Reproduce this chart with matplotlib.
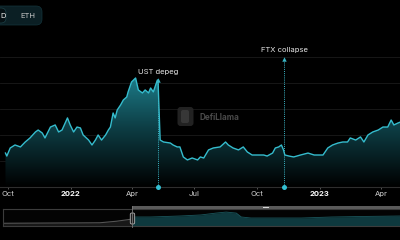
import numpy as np
import pandas as pd
import matplotlib
matplotlib.use('Agg')
import matplotlib.pyplot as plt
import matplotlib.dates as mdates
from matplotlib.colors import LinearSegmentedColormap
from matplotlib.patches import FancyBboxPatch, Rectangle

plt.rcParams['font.family'] = ['Inter', 'DejaVu Sans']

# TVL series (arbitrary units, $bn-ish)
dates = ['2021-09-27', '2021-09-29', '2021-10-04', '2021-10-11', '2021-10-19', '2021-10-26',
         '2021-11-02', '2021-11-10', '2021-11-14', '2021-11-20', '2021-11-24', '2021-12-02',
         '2021-12-09', '2021-12-14', '2021-12-19', '2021-12-27', '2021-12-31', '2022-01-05',
         '2022-01-10', '2022-01-15', '2022-01-19', '2022-01-27', '2022-02-01', '2022-02-06',
         '2022-02-10', '2022-02-15', '2022-02-21', '2022-02-25', '2022-02-28', '2022-03-04',
         '2022-03-07', '2022-03-10', '2022-03-15', '2022-03-19', '2022-03-24', '2022-03-26',
         '2022-03-31', '2022-04-06', '2022-04-10', '2022-04-16', '2022-04-20', '2022-04-25',
         '2022-04-28', '2022-05-02', '2022-05-08', '2022-05-09', '2022-05-12', '2022-05-17',
         '2022-05-27', '2022-05-31', '2022-06-06', '2022-06-10', '2022-06-15', '2022-06-21',
         '2022-06-28', '2022-07-06', '2022-07-10', '2022-07-15', '2022-07-22', '2022-07-29',
         '2022-08-08', '2022-08-16', '2022-08-20', '2022-08-27', '2022-09-04', '2022-09-11',
         '2022-09-17', '2022-09-24', '2022-10-02', '2022-10-11', '2022-10-16', '2022-10-24',
         '2022-10-28', '2022-11-02', '2022-11-06', '2022-11-09', '2022-11-11', '2022-11-17',
         '2022-11-24', '2022-12-04', '2022-12-15', '2022-12-24', '2023-01-06', '2023-01-13',
         '2023-01-20', '2023-01-28', '2023-02-04', '2023-02-11', '2023-02-15', '2023-02-23',
         '2023-03-02', '2023-03-07', '2023-03-13', '2023-03-20', '2023-03-28', '2023-04-04',
         '2023-04-11', '2023-04-16', '2023-04-20', '2023-04-26', '2023-04-30']
tvl = [26.1, 23.8, 30.0, 32.3, 30.8, 34.6,
       37.7, 42.3, 43.8, 41.5, 37.7, 46.1,
       47.7, 42.3, 43.8, 53.1, 47.7, 42.3,
       46.1, 45.4, 40.0, 36.1, 32.3, 36.1,
       40.0, 36.1, 40.0, 43.8, 46.1, 56.9,
       53.1, 59.2, 63.1, 66.9, 69.2, 73.1,
       80.7, 83.8, 74.6, 72.3, 74.6, 72.3,
       76.1, 73.1, 82.3, 80.7, 36.1, 34.6,
       33.8, 32.3, 30.8, 30.8, 23.1, 20.8,
       22.3, 20.8, 23.1, 22.3, 28.5, 30.0,
       30.8, 34.6, 32.3, 30.0, 28.5, 30.8,
       26.9, 24.6, 24.6, 24.6, 23.8, 26.1,
       30.0, 30.8, 32.3, 28.5, 24.6, 23.8,
       23.1, 24.6, 26.1, 24.6, 24.6, 30.0,
       32.3, 33.8, 34.6, 34.6, 37.7, 36.1,
       38.5, 34.6, 40.0, 42.3, 43.8, 46.1,
       46.1, 51.5, 47.7, 49.2, 50.0]

events = ['UST depeg', 'FTX collapse']
event_dates = ['2022-05-09', '2022-11-10']
event_tops = [81, 97]
event_label_y = [88.5, 105.5]

tick_dates = ['2021-10-01', '2022-01-01', '2022-04-01', '2022-07-01',
              '2022-10-01', '2023-01-01', '2023-04-01']
tick_labels = ['Oct', '2022', 'Apr', 'Jul', 'Oct', '2023', 'Apr']

# overview (brush) series
hist_dates = ['2020-12-11', '2021-02-15', '2021-05-01', '2021-07-10', '2021-08-15', '2021-09-19']
hist_vals = [16, 17, 18, 19, 28, 41]
sel_dates = ['2021-09-19', '2021-10-28', '2022-01-02', '2022-02-15', '2022-03-20', '2022-04-11',
             '2022-05-03', '2022-05-14', '2022-06-04', '2022-08-09', '2022-09-22', '2022-11-27',
             '2023-01-31', '2023-04-30']
sel_vals = [53, 53, 59, 65, 76, 82, 76, 53, 47, 47, 47, 53, 56, 59]

view_start, view_end = '2021-09-19', '2023-04-29'

W, H = 400, 240


def box(x0, y0, x1, y1):
    return [x0 / W, 1 - y1 / H, (x1 - x0) / W, (y1 - y0) / H]


def dn(d):
    return mdates.date2num(pd.to_datetime(d))


fig = plt.figure(figsize=(4, 2.4), dpi=100, facecolor='black')

# ---- main chart ----
ax = fig.add_axes(box(0, 40, 400, 187))
ax.set_facecolor('black')
x = dn(dates)
y = np.array(tvl)
ax.set_xlim(dn(view_start), dn(view_end))
ax.set_ylim(0, 113)
ax.set_yticks(range(0, 101, 20))
ax.grid(axis='y', color='#1b1b1b', lw=0.6)
ax.set_axisbelow(True)
for s in ['left', 'right', 'top']:
    ax.spines[s].set_visible(False)
ax.spines['bottom'].set_color('#2e2e2e')
ax.spines['bottom'].set_linewidth(0.8)
ax.tick_params(axis='y', left=False, labelleft=False)
ax.set_xticks(dn(tick_dates))
ax.set_xticklabels(tick_labels)
ax.tick_params(axis='x', direction='inout', length=3, width=0.6, color='#666',
               labelcolor='#d0d0d0', labelsize=5.5, pad=1.5)
for lab in ax.get_xticklabels():
    if lab.get_text().isdigit():
        lab.set_fontweight('bold')
        lab.set_color('white')

# gradient area under the line
cmap = LinearSegmentedColormap.from_list('tealfade', ['#000000', '#0d3d44', '#1f8593'])
grad = np.linspace(1, 0, 256).reshape(-1, 1)
im = ax.imshow(grad, extent=[x[0], x[-1], 0, 90], aspect='auto', cmap=cmap, zorder=1)
poly = ax.fill_between(x, y, 0, facecolor='none', edgecolor='none')
im.set_clip_path(poly.get_paths()[0], ax.transData)
ax.plot(x, y, color='#35bccd', lw=1.0, zorder=3)

# event markers
for name, d, top, ly in zip(events, event_dates, event_tops, event_label_y):
    xd = dn(d)
    ax.plot([xd, xd], [0, top], ls=(0, (1, 1.2)), lw=0.7, color='#3bb6c6', zorder=4)
    ax.plot([xd], [0], 'o', ms=3.6, color='#33bfd2', mec='none', zorder=6, clip_on=False)
    ax.plot([xd], [top + 1.2], '^', ms=3.2, color='#3bb6c6', mec='none', zorder=5)
    ax.text(xd, ly, name, color='#e6e6e6', fontsize=5.5, ha='center', va='center', zorder=6)

# ---- overview / brush ----
mini = fig.add_axes(box(3, 209, 402, 226))
mini.set_facecolor('#030303')
mini.set_xlim(dn(hist_dates[0]), dn(view_end))
mini.set_ylim(0, 100)
mini.set_xticks([])
mini.set_yticks([])
for s in mini.spines.values():
    s.set_color('#3c3c3c')
    s.set_linewidth(0.8)
mini.spines['right'].set_visible(False)
hx = dn(hist_dates)
mini.fill_between(hx, hist_vals, 0, color='#181818', lw=0)
mini.plot(hx, hist_vals, color='#555555', lw=0.8)
sx = dn(sel_dates)
mini.fill_between(sx, sel_vals, 0, color='#0e393e', lw=0)
mini.plot(sx, sel_vals, color='#1a565c', lw=0.6)

# ---- decorations in pixel space ----
ov = fig.add_axes([0, 0, 1, 1], zorder=10)
ov.set_xlim(0, W)
ov.set_ylim(H, 0)
ov.axis('off')
ov.patch.set_alpha(0)

# brush selection bar + handle, placed from the selection start date
hx0 = mini.transData.transform((dn(view_start), 0))[0] * W / fig.bbox.width
ov.add_patch(Rectangle((hx0, 205.5), W - hx0 + 5, 3.6, fc='#5a5a5a', ec='none'))
mid = (hx0 + W) / 2
ov.add_patch(Rectangle((mid - 3, 206.6), 6, 1.5, fc='#d8d8d8', ec='none'))
ov.plot([hx0, hx0], [205.5, 227], color='#7a7a7a', lw=0.6)
ov.add_patch(FancyBboxPatch((hx0 - 2.2, 213), 4.4, 11, boxstyle='round,pad=0,rounding_size=1.5',
                            fc='#1c1c1c', ec='#b5b5b5', lw=0.6))

# USD / ETH toggle (cut at the left edge)
ov.add_patch(FancyBboxPatch((-30, 6), 72, 19, boxstyle='round,pad=0,rounding_size=6',
                            fc='#0b1f24', ec='#14343b', lw=0.5))
ov.add_patch(FancyBboxPatch((-25, 8), 31, 15, boxstyle='round,pad=0,rounding_size=5',
                            fc='#061114', ec='#1d4047', lw=0.5))
ov.text(0.3, 16, 'D', color='#f0f0f0', fontsize=5.5, ha='left', va='center')
ov.text(28, 16, 'ETH', color='#c8c8c8', fontsize=5.5, ha='center', va='center')

# watermark
ov.add_patch(FancyBboxPatch((177.5, 107), 16, 19, boxstyle='round,pad=0,rounding_size=3',
                            fc='#262626', ec='none', alpha=0.9))
ov.add_patch(FancyBboxPatch((181, 110), 8, 13, boxstyle='round,pad=0,rounding_size=2',
                            fc='#3a3a3a', ec='none', alpha=0.9))
ov.text(199, 117, 'DefiLlama', color='#4a4a4a', fontsize=5.8, fontweight='bold',
        ha='left', va='center')

fig.savefig('out.png', dpi=100, facecolor='black')
